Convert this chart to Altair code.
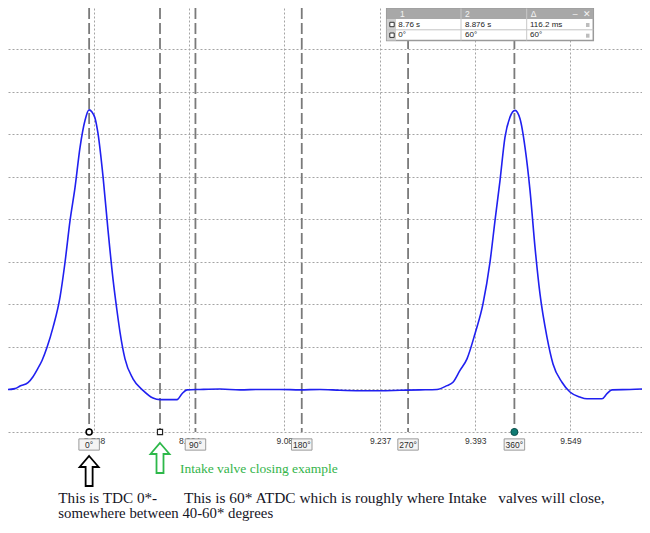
import altair as alt
import pandas as pd

# ---------------- data ----------------
# waveform: time (s) and amplitude (grid divisions above the bottom line)
wave_t = [8.6139, 8.6270, 8.6385, 8.6467, 8.6598, 8.6680, 8.6762, 8.6828, 8.6910, 8.7008,
          8.7123, 8.7205, 8.7287, 8.7369, 8.7451, 8.7532, 8.7598, 8.7647, 8.7696, 8.7746,
          8.7828, 8.7910, 8.7991, 8.8057, 8.8106, 8.8188, 8.8319, 8.8483, 8.8647, 8.8762,
          8.9041, 8.9123, 8.9205, 8.9418, 8.9746, 9.0073, 9.0401, 9.0729, 9.1057, 9.1385,
          9.1713, 9.2041, 9.2369, 9.2696, 9.3024, 9.3303, 9.3467, 9.3565, 9.3680, 9.3795,
          9.3926, 9.4057, 9.4172, 9.4254, 9.4336, 9.4418, 9.4500, 9.4582, 9.4664, 9.4746,
          9.4828, 9.4910, 9.4991, 9.5106, 9.5205, 9.5352, 9.5483, 9.5647, 9.5762, 9.6008,
          9.6090, 9.6172, 9.6467, 9.6795]
wave_v = [1.00, 1.00, 1.02, 1.08, 1.16, 1.30, 1.50, 1.68, 1.99, 2.46,
          3.17, 3.99, 4.97, 5.75, 6.69, 7.32, 7.57, 7.52, 7.38, 7.01,
          6.00, 4.74, 3.60, 2.85, 2.35, 1.72, 1.25, 0.98, 0.80, 0.76,
          0.76, 0.90, 0.99, 1.00, 1.01, 0.99, 1.00, 1.00, 0.99, 1.00,
          0.98, 0.97, 0.97, 0.98, 0.99, 1.00, 1.09, 1.17, 1.45, 1.72,
          2.31, 3.01, 3.99, 4.97, 5.91, 6.93, 7.40, 7.56, 7.36, 6.69,
          5.68, 4.34, 3.25, 2.23, 1.60, 1.17, 0.94, 0.82, 0.78, 0.78,
          0.90, 0.99, 1.00, 1.02]

# cursors (degrees of crank rotation), cursor 1 at 8.76 s, 60 deg = 116.2 ms
t0 = 8.76
cycle_s = 0.6972
cursor_deg = [0, 60, 90, 180, 270, 360]
cursor_box = ["0°", "", "90°", "180°", "270°", "360°"]

tick_values = [8.768, 8.924, 9.08, 9.237, 9.393, 9.549]
grid_divs = [0, 1, 2, 3, 4, 5, 6, 7, 8, 9]

table_header = ["1", "2", "Δ"]
table_row1 = ["8.76 s", "8.876 s", "116.2 ms"]
table_row2 = ["0°", "60°", "60°"]

annot_green = "Intake valve closing example"
annot_1a = "This is TDC 0*-"
annot_1b = "This is 60* ATDC which is roughly where Intake\u00a0\u00a0 valves will close,"
annot_2 = "somewhere between 40-60* degrees"

# ---------------- layout ----------------
W, H, PAD_B = 634, 424, 93
XDOM = [8.6270, 9.6664]
YDOM = [0, 9.965]
GRID = "#a4a4a4"

wave = pd.DataFrame({"t": wave_t, "v": wave_v})
cur = pd.DataFrame({
    "deg": cursor_deg,
    "t": [t0 + d / 360 * cycle_s for d in cursor_deg],
    "label": cursor_box,
    "v": [0] * len(cursor_deg),
})
one = pd.DataFrame({"a": [0]})

xaxis = alt.Axis(values=tick_values, format=".4~r", grid=True, gridDash=[2, 2],
                 gridColor=GRID, gridWidth=1, ticks=False, domain=False, title=None,
                 labelFont="Liberation Sans", labelFontSize=8.5, labelColor="#333333",
                 labelPadding=4, labelOverlap=False, labelFlush=False)
yaxis = alt.Axis(values=grid_divs, grid=True, gridDash=[2, 2], gridColor=GRID,
                 gridWidth=1, labels=False, ticks=False, domain=False, title=None)
X = alt.X("t:Q", scale=alt.Scale(domain=XDOM, nice=False, zero=False), axis=xaxis)
Y = alt.Y("v:Q", scale=alt.Scale(domain=YDOM, nice=False, zero=False), axis=yaxis)

layers = []

# cursor dashed lines
layers.append(alt.Chart(cur).mark_rule(color="#7a7a7a", strokeWidth=1.8,
                                       strokeDash=[11, 4]).encode(x=X))
# waveform
layers.append(alt.Chart(wave).mark_line(color="#2020f0", strokeWidth=1.6,
                                        interpolate="monotone", clip=True).encode(x=X, y=Y))
# markers
layers.append(alt.Chart(cur).transform_filter(alt.datum.deg == 0).mark_point(
    shape="circle", filled=True, fill="white", stroke="black", strokeWidth=1.6,
    size=36, opacity=1).encode(x=X, y=Y))
layers.append(alt.Chart(cur).transform_filter(alt.datum.deg == 60).mark_point(
    shape="square", filled=True, fill="white", stroke="#222222", strokeWidth=1.2,
    size=26, opacity=1).encode(x=X, y=Y))
layers.append(alt.Chart(cur).transform_filter(alt.datum.deg == 360).mark_point(
    shape="circle", filled=True, fill="#0e7a72", stroke="#0a4f4a", strokeWidth=1,
    size=50, opacity=1).encode(x=X, y=Y))

# degree boxes
box_path = "M-1,-0.55L1,-0.55L1,0.55L-1,0.55Z"
layers.append(alt.Chart(cur).transform_filter(alt.datum.label != "").mark_point(
    shape=box_path, filled=True, fill="#f4f4f4", stroke="#9a9a9a", strokeWidth=1,
    size=420, opacity=1).encode(x=X, y=alt.value(436.5)))
layers.append(alt.Chart(cur).transform_filter(alt.datum.label != "").mark_text(
    font="Liberation Sans", fontSize=8.5, color="#2a2a2a", baseline="middle",
    align="center").encode(x=X, y=alt.value(437), text="label:N"))

# arrows
arrow = ("M0,-1L0.633,-0.267L0.233,-0.267L0.233,1L-0.233,1L-0.233,-0.267"
         "L-0.633,-0.267Z")
layers.append(alt.Chart(cur).transform_filter(alt.datum.deg == 0).mark_point(
    shape=arrow, filled=True, fill="white", stroke="black", strokeWidth=1.8,
    size=900, opacity=1).encode(x=X, y=alt.value(463)))
layers.append(alt.Chart(cur).transform_filter(alt.datum.deg == 60).mark_point(
    shape=arrow, filled=True, fill="white", stroke="#2db84a", strokeWidth=1.8,
    size=900, opacity=1).encode(x=X, y=alt.value(450)))


def txt(s, x, y, size, color, font="Liberation Serif", align="left",
        baseline="alphabetic", weight="normal"):
    return alt.Chart(one).mark_text(font=font, fontSize=size, color=color, align=align,
                                    baseline=baseline, fontWeight=weight).encode(
        x=alt.value(x), y=alt.value(y), text=alt.value(s))


def rect(x, x2, y, y2, fill, stroke=None, sw=0):
    kw = dict(fill=fill, opacity=1)
    if stroke:
        kw.update(stroke=stroke, strokeWidth=sw)
    return alt.Chart(one).mark_rect(**kw).encode(
        x=alt.value(x), x2=alt.value(x2), y=alt.value(y), y2=alt.value(y2))


def rule(x, x2, y, y2, color, sw=1):
    return alt.Chart(one).mark_rule(color=color, strokeWidth=sw).encode(
        x=alt.value(x), x2=alt.value(x2), y=alt.value(y), y2=alt.value(y2))


# annotations
layers.append(txt(annot_green, 172, 465.3, 13.5, "#34b44a"))
layers.append(txt(annot_1a, 50.3, 494.7, 15.2, "#15151f"))
layers.append(txt(annot_1b, 176, 494.7, 15.4, "#15151f"))
layers.append(txt(annot_2, 50.3, 510.3, 14.8, "#15151f"))

# cursor table widget (top right)
TL, TR = 378.7, 585.3
layers.append(rect(TL, TR, 0.5, 32.5, "white", "#9a9a9a", 1.5))
layers.append(rect(TL, TR, 0.5, 11, "#a8a8a8"))
layers.append(rect(TL, 388, 11, 32.5, "#d0d0d0"))
layers.append(rule(TL, TR, 21.8, 21.8, "#c4c4c4"))
layers.append(rule(453, 453, 0.5, 32.5, "#c8c8c8"))
layers.append(rule(518.7, 518.7, 0.5, 32.5, "#c8c8c8"))
col_x = [392, 457, 522.7]
for s, x in zip(table_header, col_x):
    layers.append(txt(s, x, 5.8, 8.5, "#f4f4f4", font="Liberation Sans", baseline="middle"))
layers.append(txt("‒", 567, 5.8, 9, "#f4f4f4", font="DejaVu Sans", baseline="middle",
                  align="center"))
layers.append(txt("✕", 578.7, 5.8, 9, "#f4f4f4", font="DejaVu Sans", baseline="middle",
                  align="center", weight="bold"))
row_x = [390.3, 457, 522]
for s, x in zip(table_row1, row_x):
    layers.append(txt(s, x, 16.5, 8, "#222222", font="Liberation Sans", baseline="middle"))
for s, x in zip(table_row2, row_x):
    layers.append(txt(s, x, 27.2, 8, "#222222", font="Liberation Sans", baseline="middle"))
for yy in (16.5, 27.2):
    layers.append(rect(381.8, 386.2, yy - 2.2, yy + 2.2, "white", "#333333", 1))
    layers.append(rect(578, 581.5, yy - 1.5, yy + 2.5, "#bdbdbd"))

chart = alt.layer(*layers).properties(
    width=W, height=H,
    padding={"left": 0, "right": 0, "top": 0, "bottom": PAD_B},
    autosize=alt.AutoSizeParams(type="none"),
    background="white",
).configure_view(stroke=None)

chart.save("out.html", embed_options={"renderer": "svg", "actions": False})
